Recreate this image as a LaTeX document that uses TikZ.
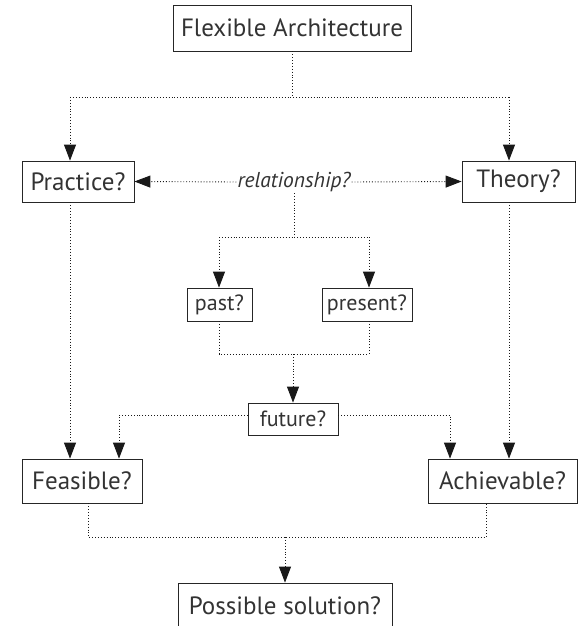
\documentclass[tikz,border=0pt]{standalone}
\usepackage{fontspec}
\setmainfont{PT Sans}
\usepackage{tikz}
\usetikzlibrary{arrows.meta}

\begin{document}
\begin{tikzpicture}[x=1bp, y=-1bp,
      >={Triangle[length=16bp,width=12bp]},
      box/.style={draw=black!85, line width=0.8bp, inner sep=0pt, text=black!80, font=\fontsize{25bp}{28bp}\selectfont},
      small/.style={box, font=\fontsize{22bp}{25bp}\selectfont},
      link/.style={line width=0.9bp, dash pattern=on 0.9bp off 2bp, black!90}]
      \useasboundingbox (0,0) rectangle (585,626);
      \node[box, minimum width=238bp, minimum height=46bp] (flex) at (292,28) {Flexible Architecture};
      \node[box, minimum width=112bp, minimum height=41bp] (practice) at (78,181.5) {Practice?};
      \node[box, minimum width=113bp, minimum height=41bp] (theory) at (518.5,181.5) {Theory?};
      \node[inner sep=1bp, text=black!80, font=\fontsize{21.5bp}{24bp}\selectfont\itshape] (rel) at (294,182) {relationship?};
      \node[small, minimum width=65bp, minimum height=33bp] (past) at (219.5,304.5) {past?};
      \node[small, minimum width=90bp, minimum height=33bp] (present) at (367,304.5) {present?};
      \node[small, minimum width=90bp, minimum height=32bp] (future) at (293,419) {future?};
      \node[box, minimum width=120bp, minimum height=44bp] (feasible) at (82,481) {Feasible?};
      \node[box, minimum width=149bp, minimum height=44bp] (achievable) at (502.5,481) {Achievable?};
      \node[box, minimum width=214bp, minimum height=46bp] (possible) at (285,606) {Possible solution?};
      % junctions
      \coordinate (tl) at (70,97);
      \coordinate (tr) at (509,97);
      \coordinate (ml) at (219,237);
      \coordinate (mr) at (369,237);
      \coordinate (bl) at (219,354);
      \coordinate (br) at (369,354);
      \coordinate (fl) at (119,415);
      \coordinate (fr) at (450,415);
      \coordinate (el) at (88,537);
      \coordinate (er) at (486,537);
      % top split
      \draw[link] (flex.south) -- (flex.south |- tl);
      \draw[link] (tl) -- (tr);
      \draw[link,->] (tl) -- (tl |- practice.north);
      \draw[link,->] (tr) -- (tr |- theory.north);
      \draw[link,->] (rel.west) -- (practice.east);
      \draw[link,->] (rel.east) -- (theory.west);
      % time
      \draw[link] (rel.south) -- (rel.south |- ml);
      \draw[link] (ml) -- (mr);
      \draw[link,->] (ml) -- (ml |- past.north);
      \draw[link,->] (mr) -- (mr |- present.north);
      \draw[link] (bl |- past.south) -- (bl) -- (br) -- (br |- present.south);
      \draw[link,->] (future.north |- bl) -- (future.north);
      \draw[link,->] (future.west |- fl) -- (fl) -- (fl |- feasible.north);
      \draw[link,->] (future.east |- fr) -- (fr) -- (fr |- achievable.north);
      % sides
      \draw[link,->] (tl |- practice.south) -- (tl |- feasible.north);
      \draw[link,->] (tr |- theory.south) -- (tr |- achievable.north);
      % bottom
      \draw[link] (el |- feasible.south) -- (el) -- (er) -- (er |- achievable.south);
      \draw[link,->] (possible.north |- el) -- (possible.north);
\end{tikzpicture}
\end{document}
